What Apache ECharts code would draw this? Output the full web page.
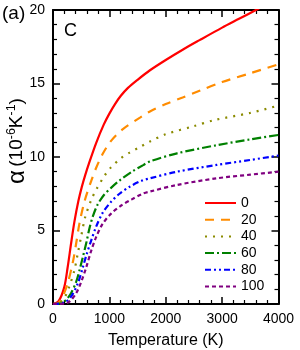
<!DOCTYPE html>
<html>
<head>
<meta charset="utf-8">
<script src="https://cdn.jsdelivr.net/npm/echarts@6/dist/echarts.min.js"></script>
<style>
html,body{margin:0;padding:0;background:#fff;}
#c{width:300px;height:350px;}
</style>
</head>
<body>
<div id="c"></div>
<script>
// Series names (legend)
var seriesNames = ['0', '20', '40', '60', '80', '100'];
var seriesColors = ['#ff0000', '#ff8c00', '#8b8b00', '#008000', '#0000ff', '#800080'];

// Temperature (K) / alpha (10^-6 K^-1) pairs
var s0 = [[0,0],[100,0.2],[200,1.15],[260,2.5],[320,4.1],[380,5.6],[450,7.0],[510,7.95],[570,8.75],[650,9.7],[765,10.95],[900,12.2],[1000,12.95],[1100,13.6],[1200,14.15],[1330,14.7],[1500,15.25],[1720,15.9],[2000,16.6],[2300,17.3],[2600,17.95],[3000,18.8],[3300,19.4],[3600,20.0],[3700,20.2]];
var s20 = [[0,0],[100,0.1],[170,0.5],[260,1.4],[350,2.8],[410,4.1],[470,5.5],[560,7.0],[680,8.4],[770,9.3],[880,10.2],[1030,11.1],[1240,11.9],[1550,12.7],[1720,13.1],[2000,13.6],[2300,14.05],[2600,14.5],[3000,15.1],[3500,15.7],[4000,16.3]];
var s40 = [[0,0],[100,0.05],[200,0.4],[290,1.2],[380,2.3],[440,3.45],[500,4.6],[570,5.9],[680,7.1],[770,7.8],[910,8.7],[1030,9.3],[1200,9.9],[1360,10.3],[1530,10.65],[1720,11.05],[2000,11.55],[2500,12.1],[2850,12.5],[3500,13.0],[4000,13.5]];
var s60 = [[0,0],[150,0.05],[230,0.27],[320,0.73],[410,1.5],[470,2.3],[530,3.2],[590,4.15],[650,5.2],[710,6.0],[790,6.75],[900,7.4],[1030,7.9],[1180,8.4],[1420,9.05],[1600,9.45],[1720,9.7],[2200,10.25],[2900,10.8],[3500,11.2],[4000,11.5]];
var s80 = [[0,0],[200,0.1],[320,0.5],[440,1.4],[530,2.5],[590,3.3],[680,4.35],[765,5.26],[880,6.2],[1030,6.95],[1180,7.5],[1360,7.98],[1580,8.4],[1720,8.55],[2200,9.0],[2900,9.46],[3500,9.8],[4000,10.1]];
var s100 = [[0,0],[200,0.02],[290,0.16],[410,0.73],[500,1.5],[590,2.5],[680,3.65],[765,4.55],[880,5.45],[1030,6.15],[1210,6.7],[1390,7.1],[1590,7.5],[1720,7.65],[2200,8.1],[2900,8.55],[3500,8.8],[4000,9.0]];
var seriesData = [s0, s20, s40, s60, s80, s100];
var dashTypes = ['solid', [9,7], [2,6], [9,3,2,3], [6,3,2,3,2,3], [4,3]];

// Axis ticks
var xTicks = [0, 1000, 2000, 3000, 4000];
var yTicks = [0, 5, 10, 15, 20];

var FONT = 'Liberation Sans, Arial, Helvetica, sans-serif';

var chart = echarts.init(document.getElementById('c'), null, {renderer: 'canvas'});

var axisCommon = {
  axisLine: {show: true, onZero: false, lineStyle: {color: '#000', width: 2}},
  axisTick: {show: true, inside: true, length: 7, lineStyle: {color: '#000', width: 1.5}},
  minorTick: {show: true, splitNumber: 5, length: 4, lineStyle: {color: '#000', width: 1.2}},
  splitLine: {show: false},
  minorSplitLine: {show: false}
};

var option = {
  animation: false,
  backgroundColor: '#fff',
  grid: {left: 53, right: 21.5, top: 10, bottom: 46, containLabel: false, outerBoundsMode: 'none'},
  xAxis: [
    Object.assign({
      type: 'value', position: 'bottom', min: xTicks[0], max: xTicks[xTicks.length-1], interval: 1000,
      name: 'Temperature (K)', nameLocation: 'middle', nameGap: 29, nameMoveOverlap: false,
      nameTextStyle: {fontFamily: FONT, fontSize: 16, color: '#000'},
      axisLabel: {show: true, margin: 8, fontFamily: FONT, fontSize: 14, color: '#000',
        formatter: function (v) { return String(v); }}
    }, axisCommon),
    Object.assign({
      type: 'value', position: 'top', min: xTicks[0], max: xTicks[xTicks.length-1], interval: 1000,
      axisLabel: {show: false}
    }, axisCommon)
  ],
  yAxis: [
    Object.assign({
      type: 'value', position: 'left', min: yTicks[0], max: yTicks[yTicks.length-1], interval: 5,
      name: '{a|α} {b|(10}{s|-6}{b|K}{s|-1}{b|)}', nameLocation: 'middle', nameGap: 24, nameRotate: 90,
      nameMoveOverlap: false,
      nameTextStyle: {
        fontFamily: FONT, color: '#000', padding: [0, 0, 0, 32],
        rich: {
          a: {fontFamily: FONT, fontSize: 24, color: '#000'},
          b: {fontFamily: FONT, fontSize: 19, color: '#000'},
          s: {fontFamily: FONT, fontSize: 12.5, color: '#000', verticalAlign: 'top', padding: [0,0,9,0]}
        }
      },
      axisLabel: {show: true, margin: 8, fontFamily: FONT, fontSize: 14, color: '#000',
        formatter: function (v) { return String(v); }}
    }, axisCommon),
    Object.assign({
      type: 'value', position: 'right', min: yTicks[0], max: yTicks[yTicks.length-1], interval: 5,
      axisLabel: {show: false}
    }, axisCommon)
  ],
  legend: {
    orient: 'vertical', left: 204, top: 196, padding: 0,
    itemWidth: 31, itemHeight: 14, itemGap: 2.7,
    itemStyle: {opacity: 0, borderWidth: 0},
    textStyle: {fontFamily: FONT, fontSize: 14, color: '#000'},
    data: seriesNames
  },
  graphic: [
    {type: 'text', left: 2, top: 4, style: {text: '(a)', fontFamily: FONT, fontSize: 19, fill: '#000'}},
    {type: 'text', left: 64, top: 22, style: {text: 'C', fontFamily: FONT, fontSize: 18, fill: '#000'}}
  ],
  series: seriesNames.map(function (n, i) {
    return {
      name: n, type: 'line', xAxisIndex: 0, yAxisIndex: 0,
      data: seriesData[i], showSymbol: false, symbol: 'none',
      smooth: 0.3, clip: true,
      color: seriesColors[i],
      lineStyle: {color: seriesColors[i], width: 2.2, type: dashTypes[i]}
    };
  })
};
chart.setOption(option);
</script>
</body>
</html>
